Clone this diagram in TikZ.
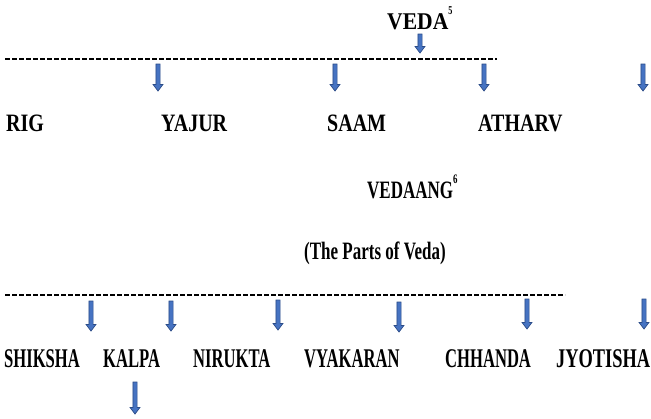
\documentclass[tikz,border=0pt]{standalone}
\usepackage{fontspec}
\newfontfamily\labfont[FakeStretch=0.68]{Liberation Serif}
\newfontfamily\rowonefont[FakeStretch=0.80]{Liberation Serif}
\newfontfamily\vedafont[FakeStretch=0.90]{Liberation Serif}
\newfontfamily\rowtwofont[FakeStretch=0.615]{Liberation Serif}
\newfontfamily\widetwofont[FakeStretch=0.68]{Liberation Serif}
\definecolor{arrfill}{HTML}{4673C2}
\definecolor{arrline}{HTML}{2B4C88}
\newcommand\vdarrow[3]{%
  \filldraw[arrowsty] (#1-2.1,#2) -- (#1+2.1,#2) -- (#1+2.1,#3-6.5) -- (#1+4.9,#3-6.5) -- (#1,#3) -- (#1-4.9,#3-6.5) -- (#1-2.1,#3-6.5) -- cycle;}
\begin{document}
\begin{tikzpicture}[x=1pt,y=-1pt,
  lab/.style={inner sep=0pt,anchor=base west,font=\labfont\bfseries\fontsize{25}{27}\selectfont},
  labone/.style={inner sep=0pt,anchor=base west,font=\rowonefont\bfseries\fontsize{25}{27}\selectfont},
  labveda/.style={inner sep=0pt,anchor=base west,font=\vedafont\bfseries\fontsize{24}{26}\selectfont},
  labtwo/.style={inner sep=0pt,anchor=base west,font=\rowtwofont\bfseries\fontsize{27}{29}\selectfont},
  labtwowide/.style={inner sep=0pt,anchor=base west,font=\widetwofont\bfseries\fontsize{27}{29}\selectfont},
  arrowsty/.style={fill=arrfill,draw=arrline,line width=0.7pt,line join=miter},
  dashline/.style={line width=1.3pt,dash pattern=on 4.6pt off 2.4pt}]
\useasboundingbox (0,0) rectangle (651,418);
% top
\node[labveda] (veda) at (387,29) {VEDA\raisebox{0.6em}{\labfont\fontsize{12}{12}\selectfont 5}};
\vdarrow{420}{34}{53}
\draw[dashline] (5,59) -- (497,59);
\vdarrow{158}{64}{91}
\vdarrow{335}{64}{91}
\vdarrow{484}{64}{91}
\vdarrow{643}{64}{91}
\node[labone] (rig) at (6,131) {RIG};
\node[labone] (yajur) at (161,131) {YAJUR};
\node[labone] (saam) at (327,131) {SAAM};
\node[labone] (atharv) at (478,131) {ATHARV};
% middle
\node[lab] (vedaang) at (367,198) {VEDAANG\raisebox{0.6em}{\fontsize{13}{13}\selectfont 6}};
\node[lab] (parts) at (304,259) {(The Parts of Veda)};
% bottom
\draw[dashline] (5,295) -- (565,295);
\vdarrow{91}{301}{331}
\vdarrow{171}{301}{331}
\vdarrow{278}{300}{330}
\vdarrow{399}{302}{332}
\vdarrow{527}{299}{329}
\vdarrow{644}{299}{329}
\node[labtwo] (shiksha) at (4,367) {SHIKSHA};
\node[labtwo] (kalpa) at (103,367) {KALPA};
\node[labtwo] (nirukta) at (193,367) {NIRUKTA};
\node[labtwo] (vyakaran) at (304,367) {VYAKARAN};
\node[labtwo] (chhanda) at (445,367) {CHHANDA};
\node[labtwowide] (jyotisha) at (556,367) {JYOTISHA};
\vdarrow{135}{382}{414}
\end{tikzpicture}
\end{document}
